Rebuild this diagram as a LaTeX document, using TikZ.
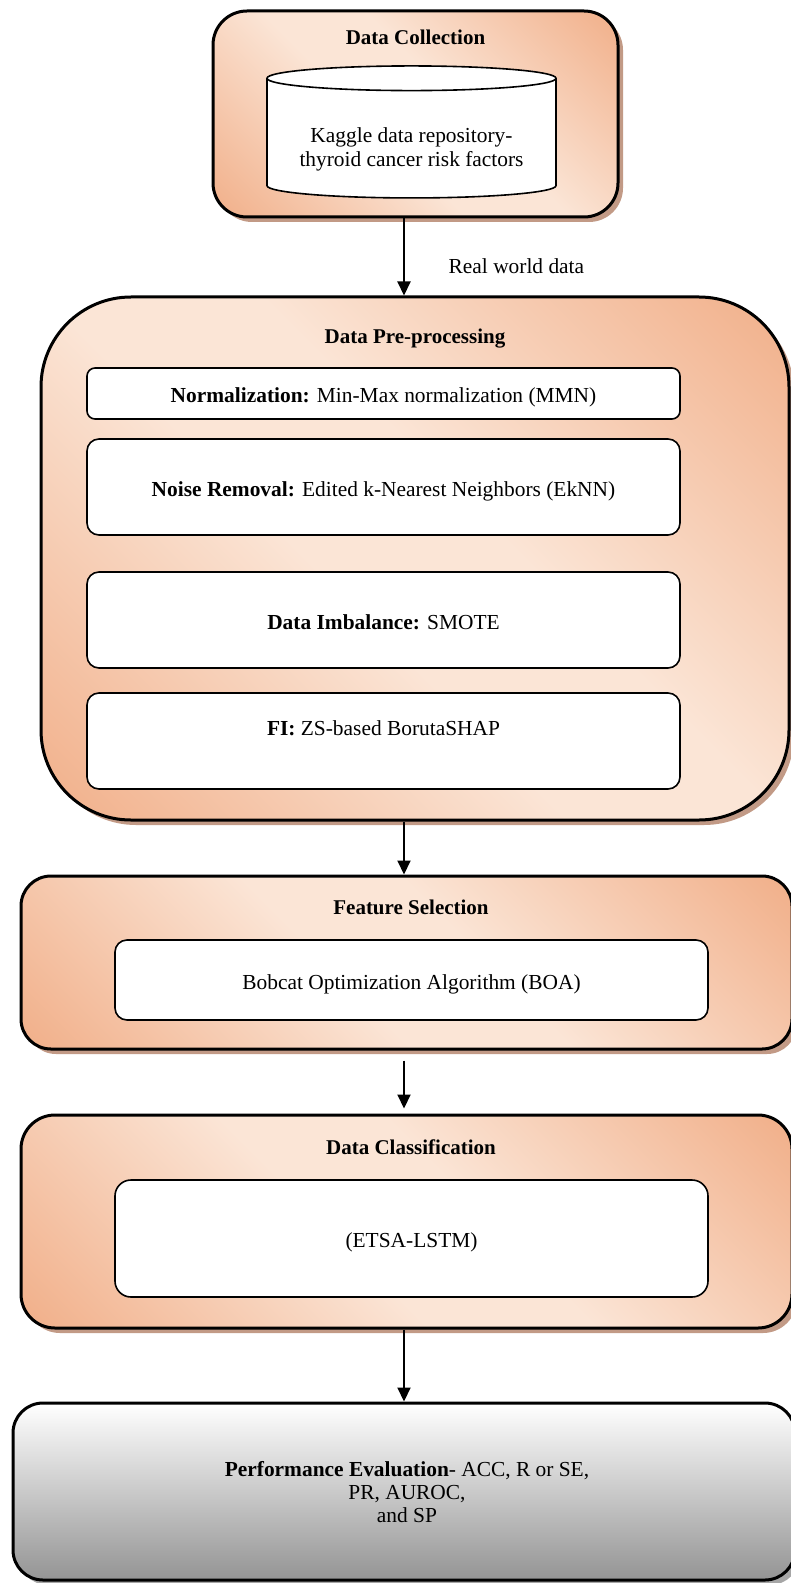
\documentclass[tikz,border=0pt]{standalone}
\usepackage{fontspec}
\setmainfont{Liberation Serif}
\usetikzlibrary{shapes.geometric,shadows,arrows.meta}
\definecolor{peachlight}{HTML}{FBE5D6}
\definecolor{peachdark}{HTML}{F0AA82}
\definecolor{peachshadow}{HTML}{C29A86}
\pgfdeclareverticalshading{peachband}{100bp}{color(0bp)=(peachdark); color(12bp)=(peachdark);
  color(44bp)=(peachlight); color(56bp)=(peachlight); color(88bp)=(peachdark); color(100bp)=(peachdark)}
\begin{document}
\begin{tikzpicture}[x=0.5pt, y=-0.5pt, font=\fontsize{10.7}{12.1}\selectfont,
    stage/.style={draw, line width=1.5pt, inner sep=0pt,
      shading=peachband, shading angle=-45,
      drop shadow={shadow xshift=2.5pt, shadow yshift=-2.5pt, fill=peachshadow, opacity=1}},
    stagetitle/.style={font=\fontsize{10.5}{12}\selectfont\bfseries},
    stepbox/.style={draw, line width=0.8pt, fill=white, rounded corners=6pt,
      minimum width=296.5pt, inner sep=0pt, text height=11.5pt, text depth=2.5pt},
    flow/.style={-{Triangle[length=7pt,width=6.5pt]}, line width=1pt}]
  \useasboundingbox (0,0) rectangle (791,1583);

  % data collection
  \node[stage, rounded corners=17pt, minimum width=202.5pt, minimum height=103pt] (collect) at (415.5,114) {};
  \node[stagetitle] (collecttitle) at (415.5,37) {Data Collection};
  \node[cylinder, shape border rotate=90, draw, line width=0.8pt, fill=white, aspect=0.11,
    minimum width=144.5pt, minimum height=66pt, inner sep=0pt] (kaggle) at (411.5,138.5)
    {\raisebox{-5.5pt}[\height][\depth]{\begin{tabular}{@{}c@{}}Kaggle data repository-\\thyroid cancer risk factors\end{tabular}}};

  % data pre-processing
  \node[stage, rounded corners=45pt, minimum width=374pt, minimum height=261.5pt] (preproc) at (415,558.5) {};
  \node[stagetitle] (preproctitle) at (415,339) {Data Pre-processing};
  \node[stepbox, rounded corners=4pt, minimum height=25.5pt] (norm) at (383.5,393.5)
    {\textbf{Normalization:} Min-Max normalization (MMN)};
  \node[stepbox, minimum height=48pt] (noise) at (383.5,487)
    {\textbf{Noise Removal:} Edited k-Nearest Neighbors (EkNN)};
  \node[stepbox, minimum height=48pt] (imbal) at (383.5,620)
    {\textbf{Data Imbalance:} SMOTE};
  \node[stepbox, minimum height=48pt] (fi) at (383.5,741) {};
  \node (fitext) at (383.5,728) {\textbf{FI:} ZS-based BorutaSHAP};

  % feature selection
  \node[stage, rounded corners=15pt, minimum width=385.5pt, minimum height=86.5pt] (featsel) at (406.5,962.5) {};
  \node[stagetitle] (featseltitle) at (411,907) {Feature Selection};
  \node[stepbox, minimum height=40pt] (boa) at (411.5,980)
    {Bobcat Optimization Algorithm (BOA)};

  % data classification
  \node[stage, rounded corners=17pt, minimum width=385.5pt, minimum height=106.5pt] (classif) at (406.5,1221.5) {};
  \node[stagetitle] (classiftitle) at (411,1147) {Data Classification};
  \node[stepbox, rounded corners=8pt, minimum height=58.5pt] (etsa) at (411.5,1238.5) {(ETSA-LSTM)};

  % performance evaluation
  \node[draw, line width=1.5pt, rounded corners=15pt, inner sep=0pt,
    top color=white, bottom color=black!42,
    drop shadow={shadow xshift=2.5pt, shadow yshift=-2.5pt, fill=black!35, opacity=1},
    minimum width=391pt, minimum height=88.5pt] (perf) at (404,1491.5) {};
  \node[align=center, font=\fontsize{10.7}{11.3}\selectfont] (perftext) at (407,1492)
    {\textbf{Performance Evaluation}- ACC, R or SE,\\PR, AUROC,\\and SP};

  % arrows
  \coordinate (ax) at (404,0);
  \draw[flow] (collect.south -| ax) -- (preproc.north -| ax)
    node[pos=0.62, right=18.5pt] (realdata) {Real world data};
  \draw[flow] (preproc.south -| ax) -- (featsel.north -| ax);
  \draw[flow] ([yshift=-5pt]featsel.south -| ax) -- ([yshift=2.5pt]classif.north -| ax);
  \draw[flow] (classif.south -| ax) -- (perf.north -| ax);
\end{tikzpicture}
\end{document}
